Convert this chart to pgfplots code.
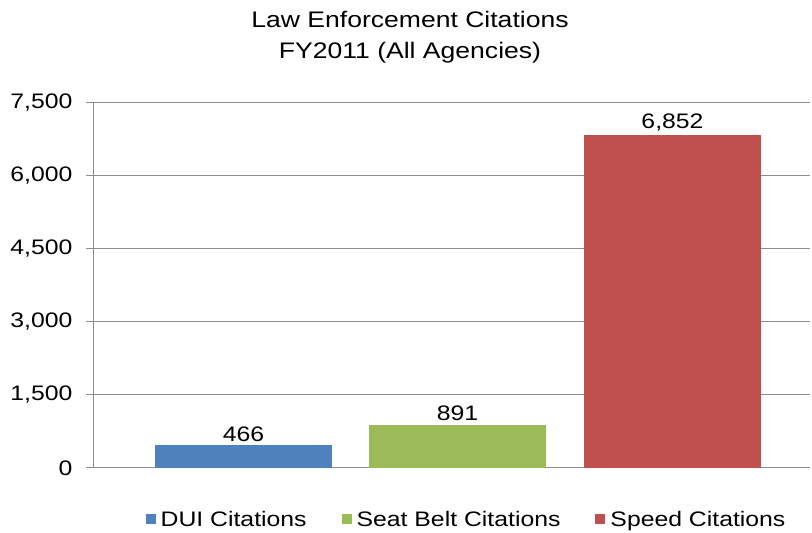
\documentclass[border=0pt]{standalone}
\usepackage{fontspec}
\setmainfont{Liberation Sans}[FakeStretch=1.18]
\usepackage{pgfplots}
\pgfplotsset{compat=1.18}
\definecolor{duiblue}{HTML}{4F81BD}
\definecolor{beltgreen}{HTML}{9BBB59}
\definecolor{speedred}{HTML}{C0504D}
\definecolor{gridgray}{HTML}{8C8C8C}
\begin{document}
\begin{tikzpicture}[x=1pt,y=1pt]
\path[use as bounding box] (0,0) rectangle (812,533);
\begin{axis}[
    at={(93pt,65pt)}, anchor=south west,
    scale only axis,
    width=717pt, height=365pt,
    xmin=93, xmax=810,
    ymin=0, ymax=7500,
    ytick={0,1500,3000,4500,6000,7500},
    xtick=\empty,
    axis x line*=bottom,
    axis y line*=left,
    axis line style={gridgray, line width=1pt},
    ymajorgrids,
    grid style={gridgray, line width=1pt},
    tick style={gridgray, line width=1pt},
    tick align=outside,
    major tick length=7pt,
    yticklabel style={font=\fontsize{21}{24}\selectfont, xshift=-10pt},
    /pgf/number format/1000 sep={,},
    /pgf/number format/assume math mode=true,
    ybar, bar width=177, bar shift=0pt,
    nodes near coords,
    nodes near coords style={font=\fontsize{21}{24}\selectfont, black, /pgf/number format/1000 sep={,}},
    legend columns=3,
    legend style={at={(0.521,-0.142)}, anchor=center, draw=none,
        font=\fontsize{21}{24}\selectfont,
        /tikz/every even column/.append style={column sep=33pt}},
    legend image code/.code={\fill[#1] (0pt,-4pt) rectangle (10pt,6pt); \path (13pt,0pt);},
]
\addplot[fill=duiblue, draw=none] coordinates {(243.5,466)};
\addlegendentry{DUI Citations}
\addplot[fill=beltgreen, draw=none] coordinates {(457.5,891)};
\addlegendentry{Seat Belt Citations}
\addplot[fill=speedred, draw=none] coordinates {(672.5,6852)};
\addlegendentry{Speed Citations}
\end{axis}
\node[align=center, font=\fontsize{22.5}{31}\selectfont] at (410,496) {Law Enforcement Citations\\FY2011 (All Agencies)};
\end{tikzpicture}
\end{document}
